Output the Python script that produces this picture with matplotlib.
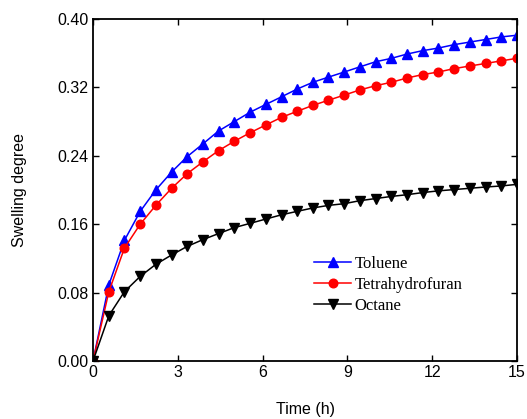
import matplotlib.pyplot as plt

# time points (h), 28 samples from 0 to 15
time_h = [0.00, 0.56, 1.11, 1.67, 2.22, 2.78, 3.33, 3.89, 4.44, 5.00,
          5.56, 6.11, 6.67, 7.22, 7.78, 8.33, 8.89, 9.44, 10.00, 10.56,
          11.11, 11.67, 12.22, 12.78, 13.33, 13.89, 14.44, 15.00]

toluene = [0.000, 0.089, 0.141, 0.175, 0.200, 0.221, 0.239, 0.254, 0.269, 0.280,
           0.291, 0.300, 0.309, 0.318, 0.326, 0.332, 0.338, 0.344, 0.350, 0.354,
           0.359, 0.363, 0.366, 0.370, 0.373, 0.376, 0.379, 0.381]

thf = [0.000, 0.081, 0.132, 0.160, 0.182, 0.202, 0.219, 0.233, 0.246, 0.257,
       0.267, 0.276, 0.285, 0.292, 0.299, 0.305, 0.311, 0.317, 0.322, 0.326,
       0.331, 0.335, 0.338, 0.342, 0.345, 0.348, 0.351, 0.354]

octane = [0.000, 0.053, 0.081, 0.099, 0.113, 0.124, 0.134, 0.142, 0.149, 0.156,
          0.161, 0.166, 0.171, 0.175, 0.179, 0.182, 0.184, 0.1875, 0.190, 0.1925,
          0.1945, 0.197, 0.199, 0.2005, 0.202, 0.2035, 0.2047, 0.2066]

xticks = [0, 3, 6, 9, 12, 15]
yticks = [0.00, 0.08, 0.16, 0.24, 0.32, 0.40]

plt.rcParams['font.family'] = ['Liberation Sans', 'DejaVu Sans']

fig = plt.figure(figsize=(5.27, 4.19), dpi=100)
ax = fig.add_axes([0.1765, 0.1384, 0.8045, 0.8163])

ax.plot(time_h, toluene, color='#0000ff', marker='^', markersize=6.8, lw=1.1, label='Toluene')
ax.plot(time_h, thf, color='#ff0000', marker='o', markersize=6.2, lw=1.1, label='Tetrahydrofuran')
ax.plot(time_h, octane, color='black', marker='v', markersize=6.8, lw=1.1, label='Octane')

ax.set_xlim(0, 15)
ax.set_ylim(0, 0.40)
ax.set_xticks(xticks)
ax.set_yticks(yticks)
ax.set_yticklabels([f'{v:.2f}' for v in yticks])
ax.tick_params(direction='in', top=True, right=True, length=4, width=1, labelsize=11.5, pad=3)
for s in ax.spines.values():
    s.set_linewidth(1.3)

ax.set_xlabel('Time (h)', fontsize=11.5, labelpad=16)
ax.set_ylabel('Swelling degree', fontsize=11.5, labelpad=22)

leg = ax.legend(loc='upper left', bbox_to_anchor=(0.487, 0.35), frameon=False,
                prop={'family': 'Liberation Serif', 'size': 12},
                handlelength=2.2, handletextpad=0.2, labelspacing=0.3)

fig.savefig('out.png', dpi=100)
